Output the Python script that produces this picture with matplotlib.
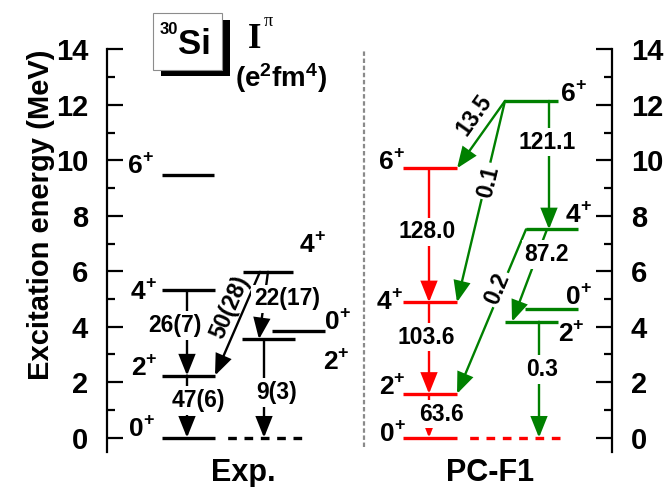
import math
import matplotlib
matplotlib.use('Agg')
import matplotlib.pyplot as plt
from matplotlib.patches import FancyArrowPatch, Rectangle
from matplotlib.ticker import MultipleLocator

# ---------------- data ----------------
# Experiment (30Si): spins and energies (MeV)
exp_spin = ['0', '2', '4', '6', '2', '0', '4']
exp_energy = [0.0, 2.24, 5.31, 9.47, 3.55, 3.85, 5.98]
# transitions (from level, to level) and B(E2) labels
exp_trans = [(2, 1), (1, 0), (6, 1), (6, 4), (4, 0)]
exp_be2 = ['26(7)', '47(6)', '50(28)', '22(17)', '9(3)']

# PC-F1 : red band (ground) and green band
red_spin = ['0', '2', '4', '6']
red_energy = [0.0, 1.58, 4.88, 9.71]
green_spin = ['2', '0', '4', '6']
green_energy = [4.18, 4.63, 7.51, 12.14]
red_be2 = ['128.0', '103.6', '63.6']
green_be2 = ['13.5', '0.1', '121.1', '0.2', '87.2', '0.3']

yticks = [0, 2, 4, 6, 8, 10, 12, 14]

# ---------------- layout ----------------
W, H = 667, 487
Y0PX, PXMEV = 437.7, 27.74          # pixel row of 0 MeV, pixels per MeV
FS_TICK, FS_LEV, FS_PLUS, FS_TR = 21, 19, 13, 16.5
BOLD = 'bold'
FONT = 'Liberation Sans'
plt.rcParams['font.family'] = [FONT, 'DejaVu Sans']
plt.rcParams['mathtext.fontset'] = 'custom'
plt.rcParams['mathtext.bf'] = 'Liberation Sans:bold'
plt.rcParams['mathtext.rm'] = 'Liberation Sans:bold'

fig = plt.figure(figsize=(W / 100, H / 100), dpi=100)
ax_bot = Y0PX + 0.5 * PXMEV
ax = fig.add_axes([107 / W, 1 - ax_bot / H, 505 / W, (ax_bot - (Y0PX - 14 * PXMEV)) / H])
ax.set_xlim(107, 612)
ax.set_ylim(-0.5, 14)
ax.patch.set_alpha(0)


def ypx(e):
    return Y0PX - e * PXMEV


def e_of(px):
    return (Y0PX - px) / PXMEV


for s in ['top', 'bottom']:
    ax.spines[s].set_visible(False)
for s in ['left', 'right']:
    ax.spines[s].set_linewidth(1.6)
ax.set_xticks([])
ax.set_yticks(yticks)
ax.yaxis.set_minor_locator(MultipleLocator(1))
ax.tick_params(axis='y', which='both', direction='in', left=True, right=True,
               labelleft=True, labelright=True, width=1.6)
ax.tick_params(axis='y', which='major', length=11.5, pad=13.5, labelsize=FS_TICK)
ax.tick_params(axis='y', which='minor', length=5.5)
for lab in ax.get_yticklabels():
    lab.set_fontweight(BOLD)

# divider
ax.plot([364, 364], [-0.35, 14], color='#8a8a8a', lw=1.6, ls=(0, (2, 1.2)), zorder=1)

LW_LEV = 2.4
LW_AR = 1.7


def level(x0, x1, e, color, dash_to=None, dash_start=None):
    ax.plot([x0, x1], [e, e], color=color, lw=LW_LEV, solid_capstyle='butt', zorder=3)
    if dash_to is not None:
        ax.plot([dash_start, dash_to], [e, e], color=color, lw=LW_LEV,
                ls=(2.6, (2.6, 2.3)), zorder=3)


def spin_label(xleft, e, dy, spin):
    yc = e_of(ypx(e) + dy)
    ax.text(xleft, yc, spin, fontsize=FS_LEV, fontweight=BOLD, ha='left',
            va='center', zorder=6)
    # '+' superscript at top-right of the digit
    w = 0.556 * FS_LEV / 0.72
    hgt = 0.716 * FS_LEV / 0.72
    ax.text(xleft + w + 5, e_of(ypx(e) + dy - hgt / 2 + 1), '+', fontsize=FS_PLUS,
            fontweight=BOLD, ha='center', va='center', zorder=6)


def arrow(x0, e0, x1, e1, color, label, t, ox, oy=0.0, rotate=False, box=True):
    a = FancyArrowPatch((x0, e0), (x1, e1), arrowstyle='-|>,head_length=1.25,head_width=0.5',
                        mutation_scale=10, lw=LW_AR, color=color, shrinkA=0, shrinkB=0,
                        zorder=4, joinstyle='miter')
    ax.add_patch(a)
    px0, py0 = x0, ypx(e0)
    px1, py1 = x1, ypx(e1)
    lx = px0 + t * (px1 - px0) + ox
    ly = py0 + t * (py1 - py0) + oy
    rot = 0
    if rotate:
        rot = math.degrees(math.atan2(py1 - py0, px0 - px1))
        if rot > 90:
            rot -= 180
    kw = dict(fontsize=FS_TR, fontweight=BOLD, ha='center', va='center', rotation=rot,
              rotation_mode='anchor', zorder=5)
    if box:
        kw['bbox'] = dict(boxstyle='square,pad=0.12', fc='white', ec='none')
    ax.text(lx, e_of(ly), label, **kw)


# ---------------- experiment ----------------
BLK = 'black'
exp_x = [(162, 215), (162, 215), (162, 215), (162, 214), (242, 295), (272, 325), (243, 293)]
for i, (x0, x1) in enumerate(exp_x):
    if i == 0:
        level(x0, x1, exp_energy[i], BLK, dash_to=303, dash_start=220)
    else:
        level(x0, x1, exp_energy[i], BLK)
exp_lab = [(129, -9), (131, -8), (131, 2), (128, -9), (323, 22.7), (325, -9), (300, -27)]
for i, (xl, dy) in enumerate(exp_lab):
    spin_label(xl, exp_energy[i], dy, exp_spin[i])

exp_tx = [(187, 187, 0.41, -12, 0, False, True),
          (187, 187, 0.40, 11, 0, False, True),
          (260, 215, 0.34, -15, 0, True, False),
          (268, 259, 0.40, 22.6, 0, False, True),
          (264, 264, 0.54, 13, 0, False, True)]
for (a, b), lab, (xa, xb, t, ox, oy, rot, box) in zip(exp_trans, exp_be2, exp_tx):
    arrow(xa, exp_energy[a], xb, exp_energy[b], BLK, lab, t, ox, oy, rot, box)

# ---------------- PC-F1 ----------------
RED = '#ff0000'
GRN = '#008000'
for i, e in enumerate(red_energy):
    if i == 0:
        level(403, 457, e, RED, dash_to=561, dash_start=462)
    else:
        level(403, 457, e, RED)
green_x = [(505, 558), (525, 578), (526, 578), (505, 558)]
for (x0, x1), e in zip(green_x, green_energy):
    level(x0, x1, e, GRN)

red_lab = [(380, -4), (379, -7), (377, 0), (379, -6)]
for (xl, dy), e, s in zip(red_lab, red_energy, red_spin):
    spin_label(xl, e, dy, s)
green_lab = [(558, 12), (566, -12), (566, -14), (561, -7)]
for (xl, dy), e, s in zip(green_lab, green_energy, green_spin):
    spin_label(xl, e, dy, s)

# red in-band transitions 6->4, 4->2, 2->0
red_tx = [(3, 2, 0.475, -2), (2, 1, 0.38, -3), (1, 0, 0.46, 12)]
for (a, b, t, ox), lab in zip(red_tx, red_be2):
    arrow(429, red_energy[a], 429, red_energy[b], RED, lab, t, ox)

# green transitions: (from green idx, to (band, idx), x0, x1, t, ox, rotate, box)
green_tx = [
    (3, ('r', 3), 505, 457, 0.21, -21, True, False),
    (3, ('r', 2), 505, 457, 0.40, 3, True, True),
    (3, ('g', 2), 549, 549, 0.32, -2, False, True),
    (2, ('r', 1), 526, 457, 0.36, -4, True, True),
    (2, ('g', 0), 547, 512, 0.27, 9.4, False, True),
    (0, ('r', 0), 539, 539, 0.41, 3, False, True),
]
for (a, (band, b), xa, xb, t, ox, rot, box), lab in zip(green_tx, green_be2):
    eb = red_energy[b] if band == 'r' else green_energy[b]
    arrow(xa, green_energy[a], xb, eb, GRN, lab, t, ox, 0, rot, box)

# ---------------- annotations in figure pixels ----------------
def fx(x):
    return x / W


def fy(y):
    return 1 - y / H


fig.patches.append(Rectangle((fx(161), fy(76)), (230 - 161) / W, (76 - 20) / H,
                             transform=fig.transFigure, fc='black', ec='none', zorder=1))
fig.patches.append(Rectangle((fx(153), fy(70)), (222 - 153) / W, (70 - 13) / H,
                             transform=fig.transFigure, fc='white', ec='#8c8c8c', lw=0.8, zorder=2))
fig.text(fx(169), fy(30), '30', fontsize=12, fontweight=BOLD, ha='center', va='center', zorder=3)
fig.text(fx(194), fy(45), 'Si', fontsize=25, fontweight=BOLD, ha='center', va='center', zorder=3)
fig.text(fx(255), fy(39), 'I', fontsize=25, fontweight=BOLD, family='Liberation Serif',
         ha='center', va='center')
fig.text(fx(268), fy(21), 'π', fontsize=13, family='Liberation Serif', ha='center', va='center')
fig.text(fx(281), fy(78), r'$\mathbf{(e^2fm^4)}$', fontsize=20, ha='center', va='center')

fig.text(fx(41), fy(215), 'Excitation energy (MeV)', fontsize=21, fontweight=BOLD,
         rotation=90, ha='center', va='center')
fig.text(fx(243), fy(473), 'Exp.', fontsize=22, fontweight=BOLD, ha='center', va='center')
fig.text(fx(490), fy(473), 'PC-F1', fontsize=22, fontweight=BOLD, ha='center', va='center')

fig.savefig('out.png', dpi=100)
